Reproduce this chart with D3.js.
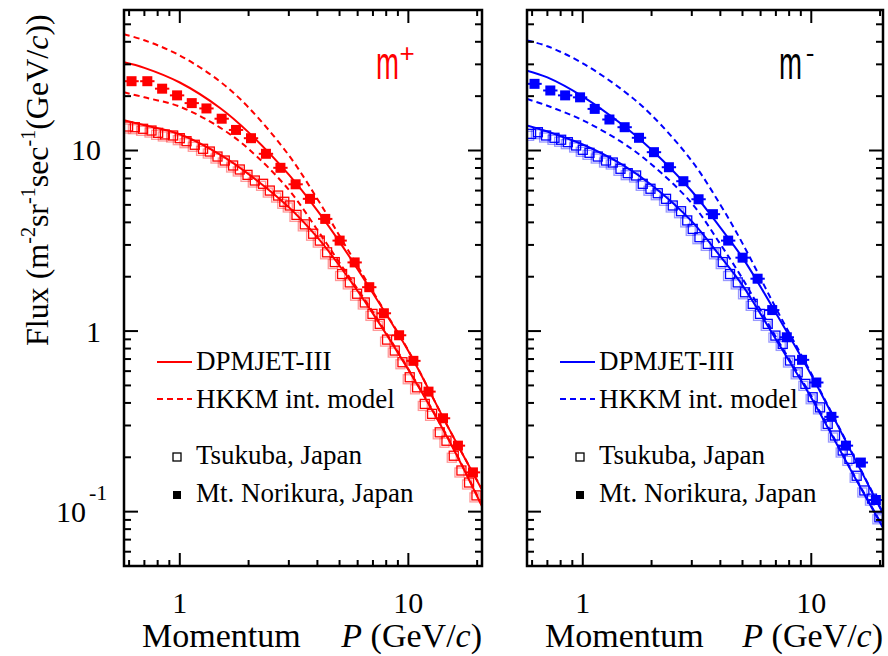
<!DOCTYPE html>
<html>
<head>
<meta charset="utf-8">
<script src="https://cdn.jsdelivr.net/npm/d3@7"></script>
<style>
  body { margin: 0; background: #fff; }
  svg { display: block; }
</style>
</head>
<body>
<svg id="chart" width="888" height="656"></svg>
<script>
// Momentum bins (GeV/c)
const momentumNorikura = [0.615, 0.721, 0.837, 0.973, 1.128, 1.308, 1.525, 1.762, 2.049, 2.382, 2.756, 3.212,
  3.712, 4.328, 5.005, 5.822, 6.745, 7.815, 9.11, 10.52, 12.25, 14.18, 16.48, 19.17];
const momentumTsukuba = [0.594, 0.636, 0.691, 0.752, 0.804, 0.860, 0.935, 1.0, 1.070, 1.163, 1.264, 1.353,
  1.462, 1.573, 1.711, 1.830, 1.978, 2.129, 2.314, 2.476, 2.692, 2.865, 3.028, 3.240, 3.523, 3.830, 4.097,
  4.410, 4.765, 5.129, 5.542, 5.966, 6.447, 6.966, 7.498, 8.069, 8.720, 9.423, 10.14, 10.92, 11.80, 12.70,
  13.72, 14.68, 15.80, 17.07, 18.43, 19.86];
const modelMomentum = [0.57, 0.7, 1, 1.5, 2, 3, 4, 5, 7, 10, 15, 21];

// Measured mu+ flux
const norikuraPlus = [24.2, 24.2, 22.0, 20.2, 18.3, 17.1, 15.0, 13.0, 11.7, 9.59, 8.02, 6.50, 5.40, 4.18,
  3.17, 2.40, 1.75, 1.255, 0.948, 0.684, 0.462, 0.329, 0.232, 0.165];
const tsukubaPlus = [13.58, 13.46, 13.19, 12.90, 12.53, 12.27, 12.11, 11.70, 11.26, 10.76, 10.22, 9.87, 9.26,
  8.80, 8.26, 7.85, 7.33, 6.82, 6.54, 6.00, 5.63, 5.20, 4.96, 4.40, 3.90, 3.46, 3.17, 2.73, 2.41, 2.07, 1.86,
  1.61, 1.44, 1.245, 1.096, 0.897, 0.780, 0.672, 0.555, 0.488, 0.395, 0.348, 0.275, 0.247, 0.204, 0.169,
  0.145, 0.123];

// Measured mu- flux
const norikuraMinus = [23.4, 21.5, 20.2, 19.7, 17.0, 14.85, 13.46, 11.76, 9.79, 8.08, 6.76, 5.37, 4.44, 3.17,
  2.55, 1.95, 1.307, 0.924, 0.693, 0.519, 0.335, 0.232, 0.187, 0.116];
const tsukubaMinus = [12.37, 12.63, 12.11, 11.76, 11.47, 11.12, 10.66, 10.09, 9.71, 9.26, 8.80, 8.58, 7.92,
  7.49, 7.27, 6.54, 6.14, 5.80, 5.40, 4.96, 4.61, 4.10, 3.68, 3.31, 3.04, 2.73, 2.41, 2.07, 1.86, 1.64, 1.415,
  1.245, 1.096, 0.944, 0.849, 0.687, 0.591, 0.510, 0.430, 0.378, 0.306, 0.264, 0.218, 0.196, 0.158, 0.131,
  0.118, 0.093];

// Calculated flux
const dpmjetNorikuraPlus = [30.8, 28.7, 23.8, 17.2, 12.6, 7.35, 4.65, 3.12, 1.62, 0.775, 0.29, 0.132];
const hkkmNorikuraPlus = [44.0, 40.8, 33.6, 24.1, 17.3, 9.41, 5.39, 3.37, 1.65, 0.78, 0.29, 0.133];
const dpmjetTsukubaPlus = [14.7, 13.8, 12.3, 9.5, 7.4, 4.85, 3.3, 2.3, 1.25, 0.61, 0.25, 0.107];
const hkkmTsukubaPlus = [21.0, 19.7, 17.5, 13.4, 10.2, 6.06, 3.63, 2.39, 1.275, 0.616, 0.253, 0.108];

const dpmjetNorikuraMinus = [27.7, 25.4, 19.9, 13.8, 10.1, 5.95, 3.74, 2.55, 1.26, 0.571, 0.213, 0.093];
const hkkmNorikuraMinus = [40.7, 37.8, 30.4, 21.5, 15.7, 8.75, 5.01, 3.06, 1.34, 0.582, 0.215, 0.094];
const dpmjetTsukubaMinus = [13.76, 12.74, 10.80, 8.31, 6.44, 4.05, 2.59, 1.79, 0.9, 0.428, 0.167, 0.078];
const hkkmTsukubaMinus = [19.3, 17.7, 14.7, 11.0, 8.37, 5.10, 3.03, 1.95, 0.927, 0.437, 0.169, 0.079];

// Axis ticks
const xMajorTicks = [1, 10];
const xMinorTicks = [0.6, 0.7, 0.8, 0.9, 2, 3, 4, 5, 6, 7, 8, 9, 20];
const yMajorTicks = [0.1, 1, 10];
const yMinorTicks = [0.05, 0.06, 0.07, 0.08, 0.09, 0.2, 0.3, 0.4, 0.5, 0.6, 0.7, 0.8, 0.9,
  2, 3, 4, 5, 6, 7, 8, 9, 20, 30, 40, 50, 60];
const legendLabels = ["DPMJET-III", "HKKM int. model", "Tsukuba, Japan", "Mt. Norikura, Japan"];

const SERIF = "Liberation Serif, Times New Roman, DejaVu Serif, serif";
const SANS = "Liberation Sans, Arial, DejaVu Sans, sans-serif";

const svg = d3.select("#chart");
svg.append("rect").attr("width", 888).attr("height", 656).attr("fill", "#fff");

const plotTop = 10, plotBottom = 566;
const y = d3.scaleLog().domain([0.05, 60]).range([plotBottom, plotTop]);

const panels = [
  { id: "plus", left: 124, right: 482, xmax: 21, color: "#ff0000", labelColor: "#ff0000", sign: "+",
    norikura: norikuraPlus, tsukuba: tsukubaPlus,
    dpmjetN: dpmjetNorikuraPlus, hkkmN: hkkmNorikuraPlus, dpmjetT: dpmjetTsukubaPlus, hkkmT: hkkmTsukubaPlus },
  { id: "minus", left: 527, right: 883, xmax: 20.6, color: "#0000ff", labelColor: "#000", sign: "-",
    norikura: norikuraMinus, tsukuba: tsukubaMinus,
    dpmjetN: dpmjetNorikuraMinus, hkkmN: hkkmNorikuraMinus, dpmjetT: dpmjetTsukubaMinus, hkkmT: hkkmTsukubaMinus }
];

const binHalf = 1.075;

function serifText(sel) {
  return sel.append("text").style("font-family", SERIF).attr("fill", "#000");
}

panels.forEach(pn => {
  const x = d3.scaleLog().domain([0.57, pn.xmax]).range([pn.left, pn.right]);
  const g = svg.append("g");

  const clipId = "clip-" + pn.id;
  svg.append("clipPath").attr("id", clipId)
    .append("rect").attr("x", pn.left).attr("y", plotTop)
    .attr("width", pn.right - pn.left).attr("height", plotBottom - plotTop);

  const plot = g.append("g").attr("clip-path", `url(#${clipId})`);

  const line = d3.line().x(d => x(d[0])).y(d => y(d[1])).curve(d3.curveCatmullRom.alpha(0.5));
  const curves = [
    { v: pn.hkkmN, dash: "6,4" }, { v: pn.hkkmT, dash: "6,4" },
    { v: pn.dpmjetN, dash: null }, { v: pn.dpmjetT, dash: null }
  ];
  curves.forEach(c => {
    plot.append("path")
      .datum(modelMomentum.map((p, i) => [p, c.v[i]]))
      .attr("d", line)
      .attr("fill", "none")
      .attr("stroke", pn.color)
      .attr("stroke-width", 2)
      .attr("stroke-dasharray", c.dash);
  });

  // Tsukuba: open squares
  const ts = momentumTsukuba.map((p, i) => [p, pn.tsukuba[i]]);
  plot.selectAll(null).data(ts).enter().append("rect")
    .attr("x", d => x(d[0]) - 6.5).attr("y", d => y(d[1]) - 2.5)
    .attr("width", 9).attr("height", 9)
    .attr("fill", "none").attr("stroke", pn.color).attr("stroke-opacity", 0.4).attr("stroke-width", 1.3);
  plot.selectAll(null).data(ts).enter().append("rect")
    .attr("x", d => x(d[0]) - 4.5).attr("y", d => y(d[1]) - 4.5)
    .attr("width", 9).attr("height", 9)
    .attr("fill", "none").attr("stroke", pn.color).attr("stroke-width", 1.3);

  // Mt. Norikura: filled squares with bin-width bars
  const nk = momentumNorikura.map((p, i) => [p, pn.norikura[i]]);
  plot.selectAll(null).data(nk).enter().append("line")
    .attr("x1", d => x(d[0] / binHalf)).attr("x2", d => x(d[0] * binHalf))
    .attr("y1", d => y(d[1])).attr("y2", d => y(d[1]))
    .attr("stroke", pn.color).attr("stroke-width", 2);
  plot.selectAll(null).data(nk).enter().append("rect")
    .attr("x", d => x(d[0]) - 5).attr("y", d => y(d[1]) - 5)
    .attr("width", 10).attr("height", 10)
    .attr("fill", pn.color);

  // Frame ticks
  const tk = g.append("g").attr("stroke", "#000").attr("stroke-width", 2);
  const xt = (vals, len) => vals.forEach(v => {
    tk.append("line").attr("x1", x(v)).attr("x2", x(v)).attr("y1", plotTop).attr("y2", plotTop + len);
    tk.append("line").attr("x1", x(v)).attr("x2", x(v)).attr("y1", plotBottom).attr("y2", plotBottom - len);
  });
  xt(xMajorTicks, 13); xt(xMinorTicks, 6);
  const yt = (vals, len) => vals.forEach(v => {
    tk.append("line").attr("y1", y(v)).attr("y2", y(v)).attr("x1", pn.left).attr("x2", pn.left + len);
    tk.append("line").attr("y1", y(v)).attr("y2", y(v)).attr("x1", pn.right).attr("x2", pn.right - len);
  });
  yt(yMajorTicks, 14); yt(yMinorTicks, 7);

  g.append("rect").attr("x", pn.left).attr("y", plotTop)
    .attr("width", pn.right - pn.left).attr("height", plotBottom - plotTop)
    .attr("fill", "none").attr("stroke", "#000").attr("stroke-width", 2.5);

  // x tick labels
  xMajorTicks.forEach(v => {
    serifText(g).attr("x", x(v)).attr("y", 613)
      .attr("text-anchor", "middle").attr("font-size", 30).text(v);
  });

  // x axis title
  serifText(g).attr("x", pn.left + 18).attr("y", 647).attr("font-size", 34).text("Momentum");
  const t2 = serifText(g).attr("x", pn.right).attr("y", 647).attr("font-size", 34).attr("text-anchor", "end");
  t2.append("tspan").attr("font-style", "italic").text("P");
  t2.append("tspan").text(" (GeV/");
  t2.append("tspan").attr("font-style", "italic").text("c");
  t2.append("tspan").text(")");

  // particle label
  g.append("text")
    .attr("transform", `translate(${pn.left + 252},79) scale(0.6,1)`)
    .style("font-family", SANS)
    .attr("font-size", 46).attr("fill", pn.labelColor).text("m");
  g.append("text")
    .attr("x", pn.left + 283).attr("y", 62)
    .style("font-family", SANS)
    .attr("font-size", 26).attr("text-anchor", "middle")
    .attr("fill", pn.labelColor).text(pn.sign);

  // legend
  const lx0 = pn.left + 33, lx1 = pn.left + 68, tx = pn.left + 72;
  g.append("line").attr("x1", lx0).attr("x2", lx1).attr("y1", 362).attr("y2", 362)
    .attr("stroke", pn.color).attr("stroke-width", 2);
  g.append("line").attr("x1", lx0).attr("x2", lx1).attr("y1", 399).attr("y2", 399)
    .attr("stroke", pn.color).attr("stroke-width", 2).attr("stroke-dasharray", "6,4");
  g.append("rect").attr("x", pn.left + 49).attr("y", 453).attr("width", 8).attr("height", 8)
    .attr("fill", "none").attr("stroke", "#000").attr("stroke-width", 1.3);
  g.append("rect").attr("x", pn.left + 49).attr("y", 491).attr("width", 8).attr("height", 8)
    .attr("fill", "#000");
  [370, 408, 464, 502].forEach((by, i) => {
    serifText(g).attr("x", tx).attr("y", by).attr("font-size", 27).text(legendLabels[i]);
  });
});

// y tick labels
serifText(svg).attr("x", 101).attr("y", 160).attr("text-anchor", "end").attr("font-size", 30).text("10");
serifText(svg).attr("x", 101).attr("y", 342).attr("text-anchor", "end").attr("font-size", 30).text("1");
serifText(svg).attr("x", 86).attr("y", 522).attr("text-anchor", "end").attr("font-size", 30).text("10");
serifText(svg).attr("x", 89).attr("y", 500).attr("font-size", 22).text("-1");

// y axis title
const yTitle = serifText(svg)
  .attr("transform", "translate(48,346) rotate(-90)")
  .attr("font-size", 32);
yTitle.append("tspan").text("Flux (m");
yTitle.append("tspan").attr("font-size", 20).attr("dy", -13).text("-2");
yTitle.append("tspan").attr("dy", 13).text("sr");
yTitle.append("tspan").attr("font-size", 20).attr("dy", -13).text("-1");
yTitle.append("tspan").attr("dy", 13).text("sec");
yTitle.append("tspan").attr("font-size", 20).attr("dy", -13).text("-1");
yTitle.append("tspan").attr("dy", 13).text("(GeV/");
yTitle.append("tspan").attr("font-style", "italic").text("c");
yTitle.append("tspan").text("))");
</script>
</body>
</html>
